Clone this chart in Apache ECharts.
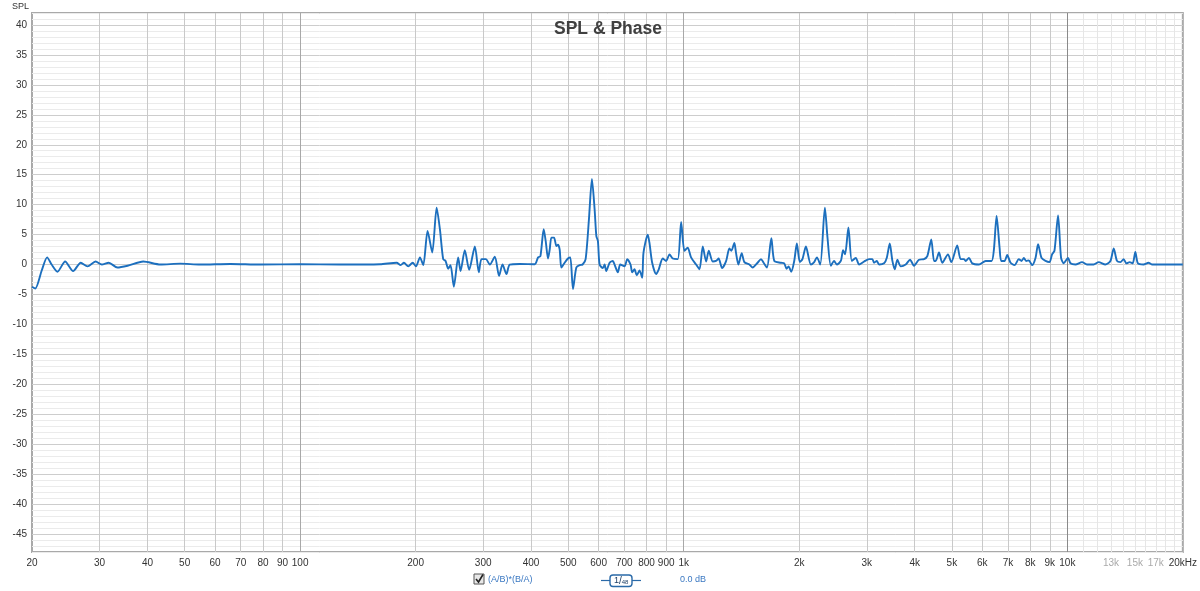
<!DOCTYPE html>
<html>
<head>
<meta charset="utf-8">
<script src="https://cdn.jsdelivr.net/npm/echarts@6/dist/echarts.min.js"></script>
<style>
html,body{margin:0;padding:0;background:#fff;}
#chart{width:1200px;height:591px;}
</style>
</head>
<body>
<div id="chart"></div>
<script>
// ---- data ----
const freqs = [20,20.4,21.2,21.9,22.5,23.3,24.4,25.6,26.8,27.9,29.3,30.4,31.7,33.4,35.5,39.0,43.2,48.7,54.9,65.8,78.7,100,127,161.5,
178.5,182.8,186.5,191.3,196.5,200.4,205.3,209.4,214.9,221.0,226.9,231.4,236.0,239.4,243.2,246.6,251.6,258.2,261.9,268.7,275.8,285.4,292.3,297.0,304.8,312.2,321.7,330.1,336.9,345.1,351.9,373.6,408.9,
417.1,423.1,431.5,436.7,442.8,447.3,451.9,459.0,465.6,470.0,474.9,479.7,489.3,499.1,506.2,514.3,524.8,535.3,545.0,554.9,566.0,576.3,585.7,591.7,597.4,603.5,615.5,621.8,628.1,640.8,653.4,660.2,673.4,683.1,701.0,712.4,726.6,734.0,744.2,754.5,766.8,779.3,785.4,805.9,814.1,827.4,847.4,860.8,881.6,899.8,918.0,936.3,964.7,984.5,
1004,1024,1045,1077,1099,1121,1144,1162,1190,1214,1233,1259,1290,1315,1331,1355,1369,1388,1416,1439,1483,1512,1558,1590,1615,1648,1692,1722,1792,1828,1854,1876,1906,1941,1972,
2008,2039,2082,2145,2188,2224,2269,2333,2370,2418,2466,2506,2567,2603,2634,2687,2743,2809,2865,2952,
3042,3103,3134,3186,3230,3328,3382,3444,3499,3549,3605,3679,3790,3890,3984,4105,4230,4315,4419,4491,4537,4628,4720,4884,4982,
5163,5270,5376,5430,5539,5649,5881,6123,6346,6435,6540,6658,6723,6861,6969,7111,7283,7474,7596,7702,7808,7935,8093,8260,8389,8564,8770,8983,9125,9256,9458,9630,9786,
10040,10190,10500,10920,11250,11710,12070,12560,12950,13210,13470,13750,14020,14250,14530,14800,15040,15270,15800,16280,16610,20000];
const spl = [-3.7,-4.0,-1.0,1.2,0,-1.2,0.5,-1.1,0.3,-0.3,0.5,0,0.3,-0.5,-0.2,0.5,0,0.15,0,0.1,0,0.05,0,0.05,
0.3,-0.1,0.3,-0.3,0.3,-0.3,1.2,-0.1,5.6,2.0,9.5,5.9,0.9,0.6,-0.7,-0.1,-3.7,1.2,-1.1,2.4,-0.9,3.0,-1.3,0.9,0.9,0,1.3,-1.9,0,-1.6,0,0.1,0.05,
1.2,1.4,5.9,3.9,1.0,2.5,4.5,4.5,3.1,3.3,2.5,-0.5,0.3,1.0,1.2,-4.1,-0.5,-0.1,0,0.9,7.5,14.3,9.2,4.8,3.9,0,-0.6,0,-1.1,0.3,0.6,0,-1.3,0,-0.3,0.9,0,-1.3,-0.8,-1.8,-1.0,-2.2,2.0,5.0,3.6,0.3,-1.6,-0.8,1.0,0.6,1.7,1.0,0.9,7.1,
2.3,2.8,1.2,0,-0.8,3.0,0.5,2.3,0.5,0.6,1.0,-0.6,0.6,2.7,2.3,3.6,1.9,0,1.9,0.4,0,-0.5,0.3,0.9,0.3,-0.5,4.4,0.6,0.3,0.2,-0.7,-0.3,-1.2,0.6,3.5,
0.4,0.9,3.0,0,0.4,1.2,0,9.5,4.5,-0.2,0.6,0,0.6,2.4,1.7,6.2,0.6,1.1,0,0.5,
0.9,0.9,0.3,0.6,0,0.2,1.1,3.5,0.6,-0.8,0.8,-0.3,0,0.8,-0.2,0.8,0.9,1.4,4.2,0.6,0.6,2.0,0.3,1.7,0.4,
3.2,0.9,0.9,0.6,1.1,0.2,0,0.6,0.6,2.5,8.1,2.8,0.6,0.6,1.6,0.3,-0.1,0.9,0.6,1.1,0.6,0.7,-0.1,1.1,3.4,1.1,0.6,0.4,1.7,2.3,8.2,1.1,0.2,
1.1,0.2,0,0.4,0,0,0.4,0,0.6,2.7,0.6,0.4,0.9,0.2,0.4,0.2,2.1,0.2,0,0.3,0,0];

const xTickValues = [20,30,40,50,60,70,80,90,100,200,300,400,500,600,700,800,900,1000,2000,3000,4000,5000,6000,7000,8000,9000,10000,13000,15000,17000,20000];
const xTickLabels = ['20','30','40','50','60','70','80','90','100','200','300','400','500','600','700','800','900','1k','2k','3k','4k','5k','6k','7k','8k','9k','10k','13k','15k','17k','20kHz'];
const faintLabels = ['13k','15k','17k'];
const majorGridFreqs = [30,40,50,60,70,80,90,200,300,400,500,600,700,800,900,2000,3000,4000,5000,6000,7000,8000,9000];
const decadeGridFreqs = [100,1000,10000];
const hfGridFreqs = [11000,12000,13000,14000,15000,16000,17000,18000,19000];

const seriesData = freqs.map((f, i) => [f, spl[i]]);

const gridLines = []
  .concat(hfGridFreqs.map(f => ({xAxis: f, lineStyle: {color: '#e6e6e6', width: 1, type: 'solid'}})))
  .concat(majorGridFreqs.map(f => ({xAxis: f, lineStyle: {color: '#c9c9c9', width: 1, type: 'solid'}})))
  .concat(decadeGridFreqs.map((f, i) => ({xAxis: f, lineStyle: {color: i === 2 ? '#8a8a8a' : '#a8a8a8', width: 1, type: 'solid'}})));

const FONT = '"Liberation Sans", Arial, sans-serif';

const chart = echarts.init(document.getElementById('chart'), null, {renderer: 'canvas'});
chart.setOption({
  animation: false,
  backgroundColor: '#ffffff',
  title: {
    text: 'SPL & Phase',
    left: 549, top: 15,
    textStyle: {fontFamily: FONT, fontSize: 17.5, fontWeight: 'bold', color: '#404040'}
  },
  grid: {left: 32, right: 16, top: 13, bottom: 39, show: true, borderColor: '#a9a9a9', borderWidth: 2, backgroundColor: 'transparent'},
  xAxis: {
    type: 'log', logBase: 10, min: 20, max: 20000,
    axisLine: {show: false}, axisTick: {show: false},
    splitLine: {show: false}, minorSplitLine: {show: false},
    axisLabel: {
      customValues: xTickValues,
      margin: 6,
      fontFamily: FONT, fontSize: 10, color: '#333',
      formatter: function (v) {
        let idx = -1, best = Infinity;
        xTickValues.forEach((t, i) => { const d = Math.abs(Math.log10(t) - Math.log10(v)); if (d < best) { best = d; idx = i; } });
        const lab = xTickLabels[idx];
        return faintLabels.indexOf(lab) >= 0 ? '{f|' + lab + '}' : lab;
      },
      rich: {f: {color: '#aaaaaa', fontFamily: FONT, fontSize: 10}}
    }
  },
  yAxis: {
    type: 'value', min: -48, max: 42, interval: 1,
    name: 'SPL', nameLocation: 'end', nameGap: 2,
    nameTextStyle: {fontFamily: FONT, fontSize: 9, color: '#333', align: 'left', padding: [0, 0, 0, -20]},
    axisLine: {show: false}, axisTick: {show: false},
    axisLabel: {
      margin: 5, fontFamily: FONT, fontSize: 10, color: '#333',
      showMinLabel: false, showMaxLabel: false,
      formatter: function (v) { return (Math.round(v) % 5 === 0 && v > -48 && v < 42) ? String(Math.round(v)) : ''; }
    },
    splitLine: {show: true, lineStyle: {color: ['#ebebeb', '#ebebeb', '#ebebeb', '#cdcdcd', '#ebebeb'], width: 1}}
  },
  series: [
    {
      name: 'grid', type: 'line', data: [[20, 0]], showSymbol: false, silent: true,
      lineStyle: {width: 0, opacity: 0}, z: 1,
      markLine: {silent: true, symbol: ['none', 'none'], label: {show: false}, animation: false,
        lineStyle: {type: 'solid', width: 1, color: '#c9c9c9'}, emphasis: {disabled: true},
        data: gridLines}
    },
    {
      name: '(A/B)*(B/A)', type: 'line', data: seriesData, showSymbol: false, smooth: 0.25,
      lineStyle: {color: '#1c6fbe', width: 1.9}, itemStyle: {color: '#1c6fbe'}, z: 5
    }
  ],
  graphic: [
    {type: 'rect', shape: {x: 474, y: 574, width: 10, height: 10}, style: {fill: '#e8e8e8', stroke: '#555', lineWidth: 1}},
    {type: 'polyline', shape: {points: [[476, 579], [478.5, 582], [483, 574.5]]}, style: {stroke: '#222', lineWidth: 1.6, fill: null}},
    {type: 'text', x: 488, y: 575, style: {text: '(A/B)*(B/A)', fontFamily: FONT, fontSize: 9, fill: '#3a78c2'}},
    {type: 'line', shape: {x1: 601, y1: 580.5, x2: 610, y2: 580.5}, style: {stroke: '#2a6aa8', lineWidth: 1.2}},
    {type: 'line', shape: {x1: 632, y1: 580.5, x2: 641, y2: 580.5}, style: {stroke: '#2a6aa8', lineWidth: 1.2}},
    {type: 'rect', shape: {x: 610, y: 575, width: 22, height: 11.5, r: 3}, style: {fill: '#fff', stroke: '#2a6aa8', lineWidth: 1.4}},
    {type: 'text', x: 614, y: 576, style: {text: '{a|1}{b|/}{c|48}', rich: {a: {fontFamily: FONT, fontSize: 9, fill: '#1d3f66'}, b: {fontFamily: FONT, fontSize: 10, fill: '#1d3f66'}, c: {fontFamily: FONT, fontSize: 6, fill: '#1d3f66', padding: [3, 0, 0, 0]}}}},
    {type: 'text', x: 680, y: 575, style: {text: '0.0 dB', fontFamily: FONT, fontSize: 9, fill: '#3a78c2'}}
  ]
});
</script>
</body>
</html>
